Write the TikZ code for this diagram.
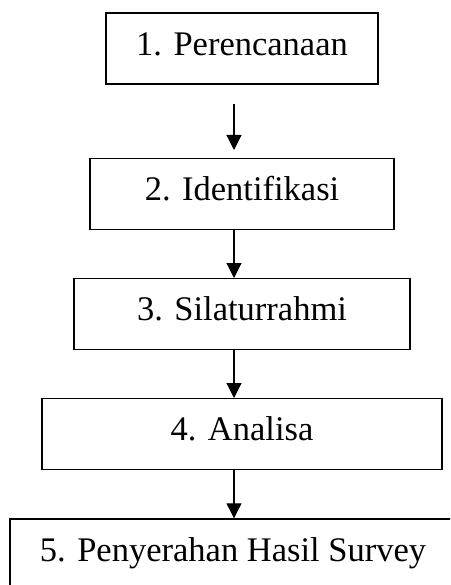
\documentclass[tikz,border=0pt]{standalone}
\usepackage{fontspec}
\setmainfont{Liberation Serif}
\usetikzlibrary{arrows.meta}

\tikzset{
  stepbox/.style={draw, line width=1.4pt, inner sep=0pt, anchor=north,
    minimum height=71pt, text height=42pt, text depth=29pt,
    font=\fontsize{34.5}{40}\selectfont},
  flow/.style={line width=1.1pt, -{Triangle[width=15pt,length=15pt]}}
}

\begin{document}
\begin{tikzpicture}[x=1pt, y=-1pt]
  \useasboundingbox (0,0) rectangle (450,585);
  \clip (0,0) rectangle (450,585);

  % the five stages, stacked top to bottom
  \node[stepbox, minimum width=272pt] (b1) at (242,12.5) {1. Perencanaan};
  \node[stepbox, minimum width=304pt] (b2) at (242,158) {2. Identifikasi};
  \node[stepbox, minimum width=336pt] (b3) at (242,278) {3. Silaturrahmi};
  \node[stepbox, minimum width=400pt] (b4) at (242,398) {4. Analisa};
  \node[stepbox, minimum width=446pt] (b5) at (233,518.3) {5. Penyerahan Hasil Survey};

  % connectors between consecutive stages
  \draw[flow] ([xshift=-8pt,yshift=-19pt]b1.south) -- ([xshift=-8pt,yshift=8pt]b2.north);
  \draw[flow] ([xshift=-8pt]b2.south) -- ([xshift=-8pt]b3.north);
  \draw[flow] ([xshift=-8pt]b3.south) -- ([xshift=-8pt]b4.north);
  \draw[flow] ([xshift=-8pt]b4.south) -- ([xshift=-8pt]b4.south |- b5.north);
\end{tikzpicture}
\end{document}
